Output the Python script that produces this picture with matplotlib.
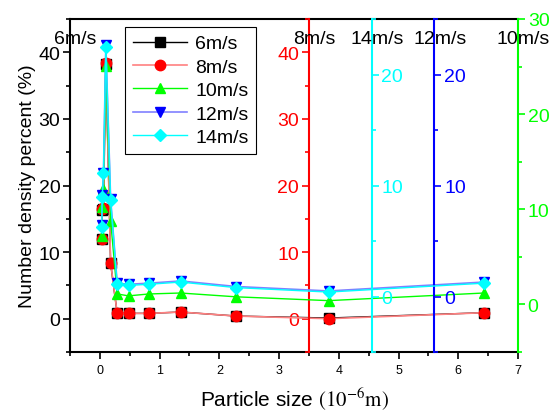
import matplotlib
matplotlib.use("Agg")
import matplotlib.pyplot as plt
import matplotlib.transforms as mtransforms
from matplotlib.ticker import MultipleLocator

plt.rcParams['font.family'] = ['Liberation Sans', 'DejaVu Sans']
plt.rcParams['mathtext.fontset'] = 'stix'

# particle size (10^-6 m), shared by all series
size = [0.03, 0.04, 0.06, 0.10, 0.18, 0.29, 0.48, 0.82, 1.35, 2.28, 3.83, 6.43]

# number density percent (%)
v6 = [11.9, 16.3, 16.5, 38.3, 8.3, 0.8, 0.8, 0.8, 1.0, 0.4, 0.1, 0.9]
v8 = [11.9, 16.4, 16.6, 38.4, 8.4, 0.8, 0.8, 0.8, 1.0, 0.4, 0.0, 0.9]
v10 = [7.2, 10.2, 12.1, 25.1, 8.8, 1.1, 0.9, 1.1, 1.2, 0.8, 0.4, 1.2]
v12 = [6.4, 9.1, 11.1, 22.7, 8.8, 1.2, 1.1, 1.2, 1.4, 0.9, 0.5, 1.3]
v14 = [6.3, 9.0, 11.1, 22.5, 8.7, 1.1, 1.0, 1.1, 1.3, 0.8, 0.4, 1.2]

labels = ['6m/s', '8m/s', '10m/s', '12m/s', '14m/s']

TICK_FS = 14
TITLE_FS = 14

fig = plt.figure(figsize=(5.57, 4.14), dpi=100)
ax = fig.add_axes([70/557, 61/414, 448/557, 333/414])

def style_y(a, side, color, ylim, major, minor):
    a.set_ylim(*ylim)
    a.yaxis.set_major_locator(MultipleLocator(major))
    a.yaxis.set_minor_locator(MultipleLocator(minor))
    a.tick_params(axis='y', which='both', direction='out', colors=color,
                  left=(side == 'left'), right=(side == 'right'),
                  labelleft=(side == 'left'), labelright=(side == 'right'),
                  labelsize=TICK_FS, width=1.2, pad=2)
    a.tick_params(axis='y', which='major', length=5)
    a.tick_params(axis='y', which='minor', length=3)

# main axis: 6m/s
l6, = ax.plot(size, v6, color='black', lw=1.0, marker='s', ms=6.5,
              mfc='black', mec='black')
ax.set_xlim(-0.5, 7)
ax.xaxis.set_major_locator(MultipleLocator(1))
ax.xaxis.set_minor_locator(MultipleLocator(0.5))
ax.tick_params(axis='x', which='both', direction='out', labelsize=9, width=1.2)
ax.tick_params(axis='x', which='major', length=5)
ax.tick_params(axis='x', which='minor', length=3)
style_y(ax, 'left', 'black', (-5, 45), 10, 5)
ax.spines['right'].set_visible(False)
for s in ax.spines.values():
    s.set_linewidth(1.5)
ax.set_xlabel(r'Particle size $\mathrm{(10^{-6}m)}$', fontsize=15, labelpad=6)
ax.set_ylabel('Number density percent (%)', fontsize=14, labelpad=2)

def twin(spine_side, xpos, color):
    t = ax.twinx()
    for k in ['top', 'bottom', 'left', 'right']:
        t.spines[k].set_visible(False)
    sp = t.spines[spine_side]
    sp.set_visible(True)
    sp.set_color(color)
    sp.set_linewidth(1.5)
    if xpos is not None:
        sp.set_position(('data', xpos))
    t.yaxis.set_ticks_position(spine_side)
    t.patch.set_visible(False)
    return t

ax8 = twin('left', 3.5, 'red')
style_y(ax8, 'left', 'red', (-5, 45), 10, 5)
ax10 = twin('right', None, '#00ff00')
style_y(ax10, 'right', '#00ff00', (-5, 30), 10, 5)
ax12 = twin('right', 5.6, 'blue')
style_y(ax12, 'right', 'blue', (-5, 25), 10, 5)
ax14 = twin('right', 4.55, 'cyan')
style_y(ax14, 'right', 'cyan', (-5, 25), 10, 5)

l8, = ax8.plot(size, v8, color='#ff8080', lw=1.2, marker='o', ms=7.5,
               mfc='red', mec='red')
l10, = ax10.plot(size, v10, color='#00ff00', lw=1.0, marker='^', ms=7.5,
                 mfc='#00ff00', mec='#00ff00')
l12, = ax12.plot(size, v12, color='#8080ff', lw=1.2, marker='v', ms=6.5,
                 mfc='blue', mec='blue')
l14, = ax14.plot(size, v14, color='cyan', lw=1.0, marker='D', ms=6.5,
                 mfc='cyan', mec='cyan')

# axis titles along the top, one per spine
trans = mtransforms.blended_transform_factory(ax.transData, ax.transAxes)
for xpos, lab in [(-0.5, '6m/s'), (3.5, '8m/s'), (4.55, '14m/s'),
                  (5.6, '12m/s'), (7.0, '10m/s')]:
    ax14.annotate(lab, xy=(xpos, 0.94), xycoords=trans, xytext=(4, 0),
                  textcoords='offset points', ha='center', va='center',
                  fontsize=TITLE_FS, color='black')

leg = ax14.legend([l6, l8, l10, l12, l14], labels, loc='upper left',
                  bbox_to_anchor=(0.123, 0.976), borderaxespad=0,
                  fontsize=14, frameon=True, fancybox=False,
                  edgecolor='black', framealpha=1, handlelength=2.8,
                  labelspacing=0.3, borderpad=0.4, handletextpad=0.4)
leg.get_frame().set_linewidth(0.8)

fig.savefig('out.png', dpi=100)
